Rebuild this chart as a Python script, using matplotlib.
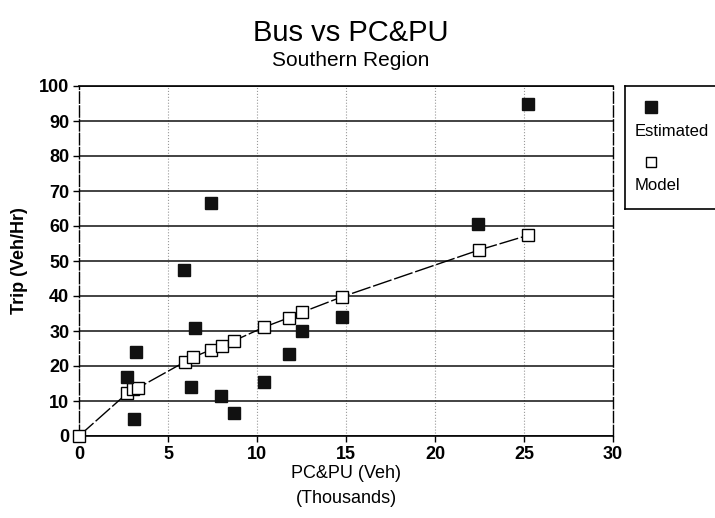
import matplotlib
matplotlib.use("Agg")
import matplotlib.pyplot as plt

plt.rcParams['font.family'] = ['Liberation Sans', 'DejaVu Sans']

# Estimated (observed) points
est_x = [2.7, 3.2, 3.1, 5.9, 7.4, 6.5, 6.3, 8.0, 8.7, 10.4, 11.8, 12.5, 14.8, 22.4, 25.2]
est_y = [17, 24, 5, 47.5, 66.5, 31, 14, 11.5, 6.5, 15.5, 23.5, 30, 34, 60.5, 95]

# Model curve points
model_x = [0, 2.7, 3.05, 3.3, 5.95, 6.4, 7.4, 8.05, 8.7, 10.4, 11.8, 12.5, 14.8, 22.45, 25.2]
model_y = [0, 12.2, 13.4, 13.7, 21.2, 22.5, 24.6, 25.8, 27.2, 31.1, 33.8, 35.3, 39.8, 53.1, 57.3]

x_ticks = [0, 5, 10, 15, 20, 25, 30]
y_ticks = list(range(0, 101, 10))

fig = plt.figure(figsize=(7.15, 5.18), dpi=100)
ax = fig.add_axes([79 / 715, 1 - 436 / 518, (613 - 79) / 715, (436 - 86) / 518])

ax.plot(model_x, model_y, color='black', lw=1.0, linestyle=(0, (14, 2)),
        marker='s', markersize=8, markerfacecolor='white', markeredgecolor='black',
        markeredgewidth=1.0, zorder=3, clip_on=False)
ax.plot(est_x, est_y, linestyle='none', marker='s', markersize=8,
        color='#111111', zorder=4, clip_on=False)

ax.set_xlim(0, 30)
ax.set_ylim(0, 100)
ax.set_xticks(x_ticks)
ax.set_yticks(y_ticks)
ax.tick_params(axis='both', labelsize=13, length=4, width=1, direction='out', pad=3)
for lbl in ax.get_xticklabels() + ax.get_yticklabels():
    lbl.set_fontweight('bold')

# horizontal solid grid, vertical light dotted grid
ax.yaxis.grid(True, color='#222222', lw=1.2)
ax.xaxis.grid(True, color='#999999', lw=0.8, linestyle=':')
ax.set_axisbelow(True)
for side in ['left', 'right']:
    ax.spines[side].set_linestyle((0, (8, 2)))
    ax.spines[side].set_linewidth(1.0)
ax.spines['top'].set_linewidth(1.2)
ax.spines['bottom'].set_linewidth(1.2)

ax.set_ylabel('Trip (Veh/Hr)', fontsize=13, fontweight='bold', labelpad=8)
ax.set_xlabel('PC&PU (Veh)\n(Thousands)', fontsize=13, linespacing=1.6, labelpad=2)

fig.text(0.49, 0.936, 'Bus vs PC&PU', ha='center', va='center', fontsize=21)
fig.text(0.49, 0.884, 'Southern Region', ha='center', va='center', fontsize=15)

# legend box with markers placed above labels
lax = fig.add_axes([625 / 715, 1 - 209 / 518, 0.2, (209 - 86) / 518])
lax.set_xlim(0, 1)
lax.set_ylim(0, 1)
lax.set_xticks([])
lax.set_yticks([])
lax.spines['right'].set_visible(False)
for side in ['left', 'top', 'bottom']:
    lax.spines[side].set_linewidth(1.2)
lax.plot([0.18], [0.83], marker='s', markersize=8, color='#111111', linestyle='none')
lax.plot([0.18], [0.38], marker='s', markersize=7, markerfacecolor='white',
         markeredgecolor='black', linestyle='none')
lax.text(0.07, 0.63, 'Estimated', fontsize=12, va='center', ha='left')
lax.text(0.07, 0.19, 'Model', fontsize=12, va='center', ha='left')

fig.savefig('out.png', dpi=100)
